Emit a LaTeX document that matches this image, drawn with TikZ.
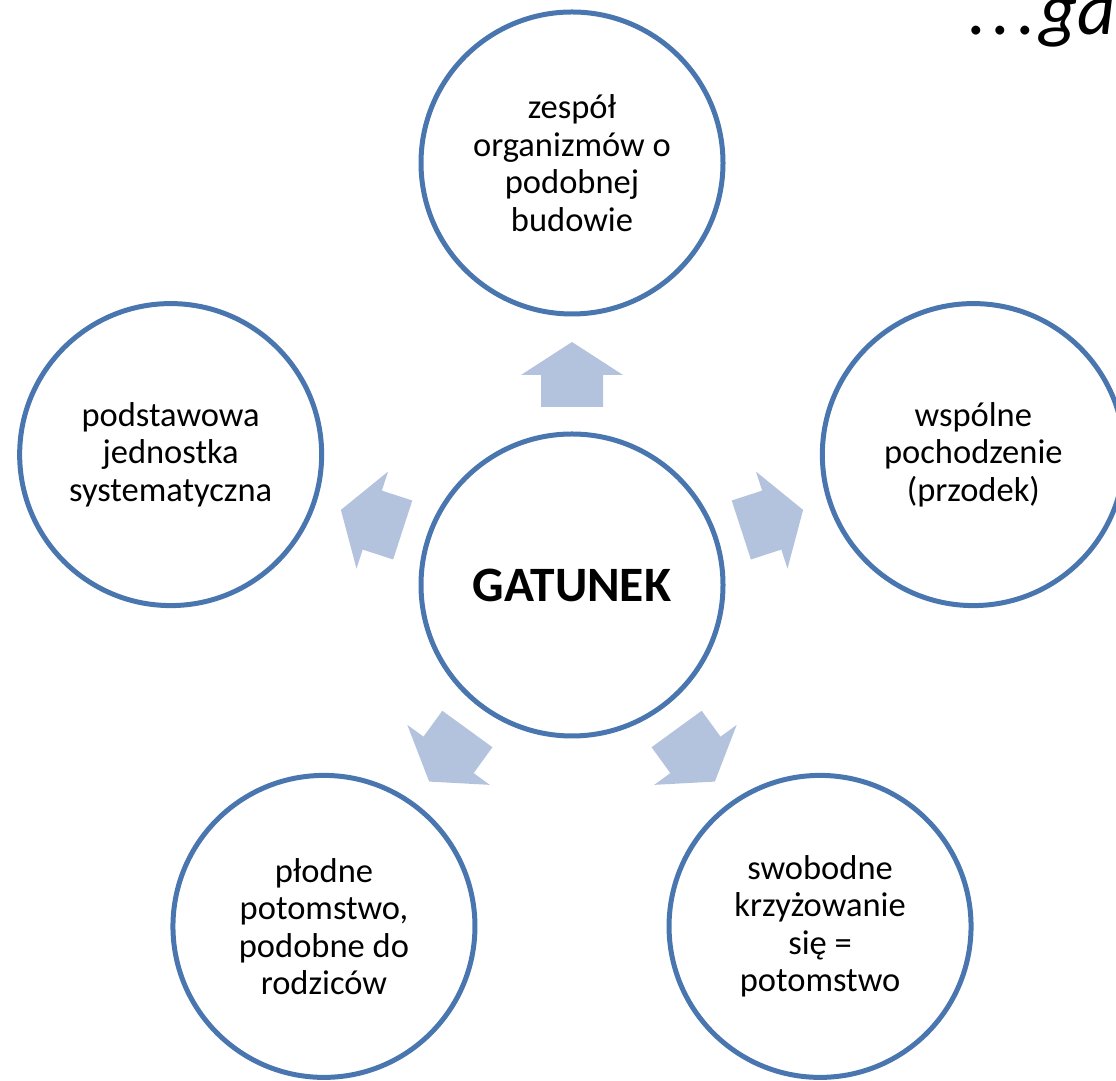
\documentclass[tikz,border=0pt]{standalone}
\usepackage{fontspec}
\setmainfont{Carlito}
\definecolor{ringblue}{HTML}{4A76B0}
\definecolor{arrowfill}{HTML}{B3C3DE}
\begin{document}
\begin{tikzpicture}[x=1pt,y=1pt,
  ringnode/.style={circle, draw=ringblue, line width=5pt, minimum size=302pt,
    inner sep=0pt, align=center, font=\fontsize{34.5}{37.5}\selectfont},
  blockarrow/.style={fill=arrowfill, draw=none}]
\useasboundingbox (0,0) rectangle (1116,1081);
\clip (0,0) rectangle (1116,1081);
\coordinate (C) at (572,496);
% block arrows
\foreach \a in {90,18,162,234,306} {
  \fill[blockarrow, shift={(C)}, rotate=\a]
    (178,-31) -- (210,-31) -- (210,-51) -- (243,0) -- (210,51) -- (210,31) -- (178,31) -- cycle;
}
\node[ringnode, font=\bfseries\fontsize{49.5}{55}\selectfont] (center) at (C) {GATUNEK};
\node[ringnode] (top) at ([shift={(90:422)}]C) {zespół\\organizmów o\\podobnej\\budowie};
\node[ringnode] (right) at ([shift={(18:422)}]C) {wspólne\\pochodzenie\\(przodek)};
\node[ringnode] (left) at ([shift={(162:422)}]C) {podstawowa\\jednostka\\systematyczna};
\node[ringnode] (botleft) at ([shift={(234:422)}]C) {płodne\\potomstwo,\\podobne do\\rodziców};
\node[ringnode] (botright) at ([shift={(306:422)}]C) {swobodne\\krzyżowanie\\się =\\potomstwo};
\node[anchor=base west, inner sep=0pt, font=\itshape\fontsize{74}{80}\selectfont] (title) at (968,1046) {.\kern6pt.\kern6pt.\kern3pt ga};
\end{tikzpicture}
\end{document}
